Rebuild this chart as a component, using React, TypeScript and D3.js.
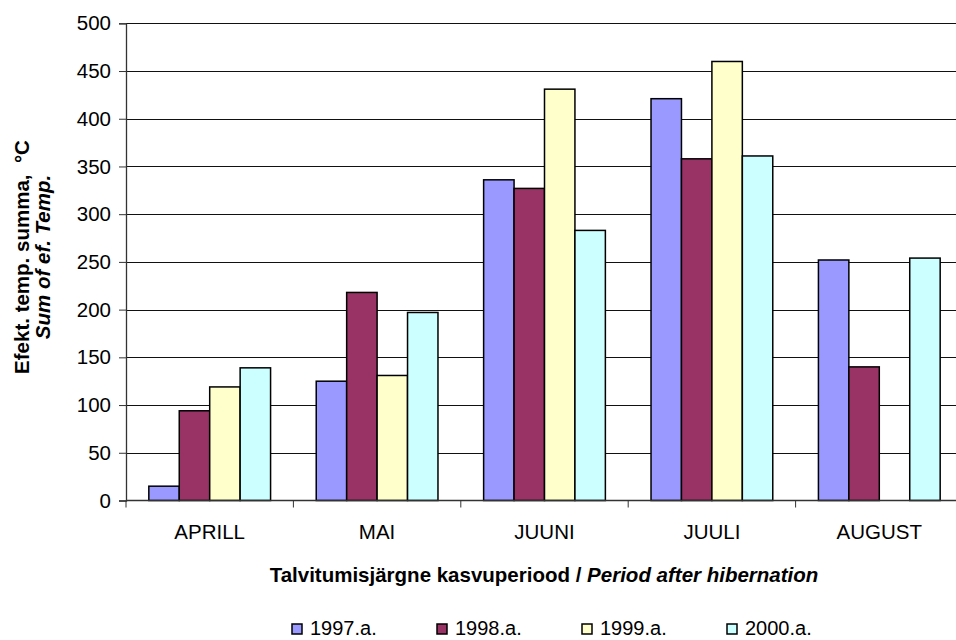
import React, { useRef, useEffect } from 'react';
import * as d3 from 'd3';

const months = ['APRILL', 'MAI', 'JUUNI', 'JUULI', 'AUGUST'];
const years = ['1997.a.', '1998.a.', '1999.a.', '2000.a.'];
const colors = ['#9999FF', '#993366', '#FFFFCC', '#CCFFFF'];

const v1997 = [15, 125, 336, 421, 252];
const v1998 = [94, 218, 327, 358, 140];
const v1999 = [119, 131, 431, 460, null];
const v2000 = [139, 197, 283, 361, 254];

const yTicks = [0, 50, 100, 150, 200, 250, 300, 350, 400, 450, 500];

const font = '"Liberation Sans", Arial, sans-serif';
const fs = 20.5;

const App = () => {
  const svgRef = useRef<SVGSVGElement>(null);

  useEffect(() => {
    const svg = d3.select(svgRef.current);
    svg.selectAll('*').remove();

    const left = 126;
    const right = 963;
    const top = 23.3;
    const bottom = 500.5;
    const series = [v1997, v1998, v1999, v2000];

    const x = d3.scaleBand().domain(months).range([left, right]);
    const inner = d3.scaleBand().domain(years).range([0, x.bandwidth()])
      .paddingInner(0).paddingOuter(0.75);
    const y = d3.scaleLinear().domain([0, 500]).range([bottom, top]);

    // grid lines
    svg.append('g').selectAll('line').data(yTicks.filter(d => d > 0)).enter()
      .append('line')
      .attr('x1', left).attr('x2', right)
      .attr('y1', d => Math.round(y(d)) + 0.5).attr('y2', d => Math.round(y(d)) + 0.5)
      .attr('stroke', '#111').attr('stroke-width', 1);

    // bars
    series.forEach((vals, si) => {
      svg.append('g').selectAll('rect')
        .data(vals.map((v, i) => ({ m: months[i], v })).filter(d => d.v !== null))
        .enter().append('rect')
        .attr('x', d => x(d.m)! + inner(years[si])!)
        .attr('width', inner.bandwidth())
        .attr('y', d => y(d.v as number))
        .attr('height', d => bottom - y(d.v as number))
        .attr('fill', colors[si])
        .attr('stroke', '#000')
        .attr('stroke-width', 1.5);
    });

    // y axis
    const yAxis = svg.append('g').attr('transform', `translate(${left},0)`)
      .call(d3.axisLeft(y).tickValues(yTicks).tickSize(7).tickPadding(8));
    yAxis.select('.domain').attr('stroke', '#333').attr('stroke-width', 1.3);
    yAxis.selectAll('line').attr('stroke', '#333');
    yAxis.selectAll('text').attr('font-family', font).attr('font-size', fs).attr('fill', '#000');

    // x axis
    const xAxis = svg.append('g').attr('transform', `translate(0,${bottom})`);
    xAxis.append('line').attr('x1', left).attr('x2', right).attr('stroke', '#333').attr('stroke-width', 1.3);
    xAxis.selectAll('line.tk').data(months).enter().append('line').attr('class', 'tk')
      .attr('x1', d => x(d)! + x.bandwidth()).attr('x2', d => x(d)! + x.bandwidth())
      .attr('y1', 0).attr('y2', 7).attr('stroke', '#333');
    xAxis.append('line').attr('x1', left).attr('x2', left).attr('y1', 0).attr('y2', 7).attr('stroke', '#333');
    xAxis.selectAll('text').data(months).enter().append('text')
      .attr('x', d => x(d)! + x.bandwidth() / 2)
      .attr('y', 38.5)
      .attr('text-anchor', 'middle')
      .attr('font-family', font).attr('font-size', fs)
      .text(d => d);

    // x title
    const xt = svg.append('text').attr('x', 544).attr('y', 582)
      .attr('text-anchor', 'middle').attr('font-family', font)
      .attr('font-size', fs).attr('font-weight', 'bold');
    xt.append('tspan').text('Talvitumisjärgne kasvuperiood / ');
    xt.append('tspan').attr('font-style', 'italic').text('Period after hibernation');

    // y title
    const yt = svg.append('g').attr('transform', 'translate(0,257) rotate(-90)');
    yt.append('text').attr('x', 0).attr('y', 29).attr('text-anchor', 'middle')
      .attr('font-family', font).attr('font-size', fs).attr('font-weight', 'bold')
      .attr('xml:space', 'preserve').style('white-space', 'pre')
      .text('Efekt. temp. summa,  °C');
    yt.append('text').attr('x', 0).attr('y', 50).attr('text-anchor', 'middle')
      .attr('font-family', font).attr('font-size', fs).attr('font-weight', 'bold')
      .attr('font-style', 'italic')
      .text('Sum of ef. Temp.');

    // legend
    const lg = svg.append('g').selectAll('g').data(years).enter().append('g')
      .attr('transform', (d, i) => `translate(${292 + i * 145},624)`);
    lg.append('rect').attr('width', 10).attr('height', 10)
      .attr('fill', (d, i) => colors[i]).attr('stroke', '#000').attr('stroke-width', 1.5);
    lg.append('text').attr('x', 18).attr('y', 11)
      .attr('font-family', font).attr('font-size', 20).text(d => d);
  }, []);

  return (
    <svg ref={svgRef} width={956} height={640}
      style={{ position: 'absolute', left: 0, top: 0, background: '#fff' }} />
  );
};

export default App;
